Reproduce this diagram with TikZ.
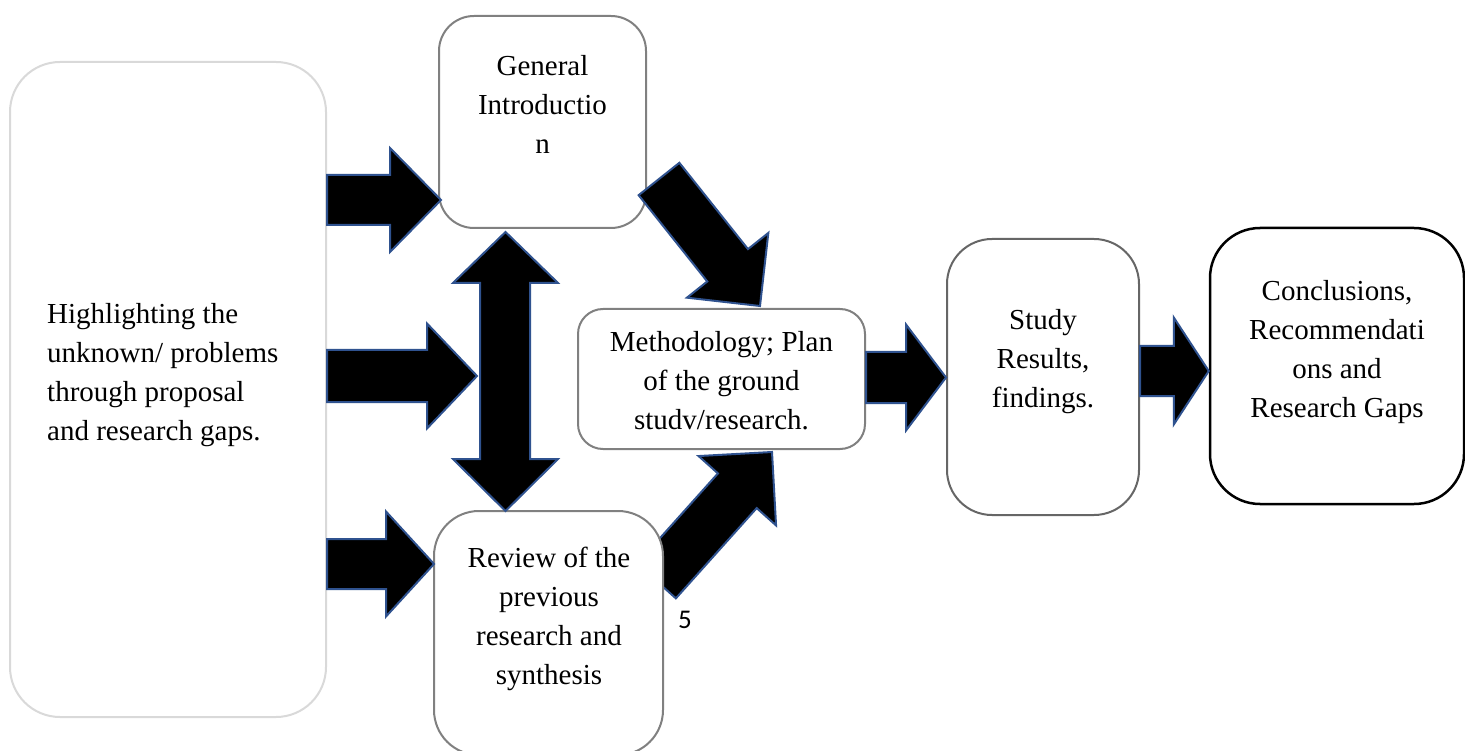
\documentclass[tikz,border=0pt]{standalone}
\usepackage{fontspec}
\setmainfont{Liberation Serif}
\newfontfamily\pagenumfont{Carlito}
\usetikzlibrary{calc}
\definecolor{arrblue}{HTML}{2F528F}
\definecolor{lightedge}{HTML}{D9D9D9}
\definecolor{midedge}{HTML}{808080}
\definecolor{darkedge}{HTML}{666666}
\newcommand\lstrut{\rule[-7pt]{0pt}{27pt}}
% #1 tail, #2 tip, #3 shaft half width, #4 head half width, #5 head length
\newcommand\blockarrow[5]{%
  \path ($(#2)!#5!(#1)$) coordinate (hb);
  \draw[blockarr] ($(#1)!#3!90:(#2)$) -- ($(hb)!#3!90:(#2)$) -- ($(hb)!#4!90:(#2)$) -- (#2)
    -- ($(hb)!#4!-90:(#2)$) -- ($(hb)!#3!-90:(#2)$) -- ($(#1)!#3!-90:(#2)$) -- cycle;}
\begin{document}
\begin{tikzpicture}[x=1pt,y=-1pt,
  box/.style={draw, fill=white, line width=2pt, inner sep=0pt},
  txt/.style={font=\fontsize{29pt}{39pt}\selectfont, inner sep=0pt, align=center},
  blockarr/.style={fill=black, draw=arrblue, line width=2pt, line join=miter}]
\useasboundingbox (0,0) rectangle (1465,751);
\fill[white] (0,0) rectangle (1465,751);

% arrow from review to methodology (behind the review box)
\coordinate (a5s) at (656.5,581);
\coordinate (a5e) at (772,452);
\blockarrow{a5s}{a5e}{26pt}{52pt}{52pt}

% boxes
\node[box, draw=lightedge, rounded corners=50pt, minimum width=316pt, minimum height=655pt] (left) at (168,389.5) {};
\node[box, draw=midedge, rounded corners=35pt, minimum width=207pt, minimum height=212pt] (intro) at (542.5,122) {};
\node[box, draw=midedge, rounded corners=25pt, minimum width=287pt, minimum height=140pt] (method) at (721.5,379) {};
\node[box, draw=midedge, rounded corners=45pt, minimum width=229pt, minimum height=244pt] (review) at (548.5,633) {};
\node[box, draw=darkedge, rounded corners=45pt, minimum width=192pt, minimum height=276pt] (study) at (1043,377) {};
\node[box, draw=black, line width=2.5pt, rounded corners=50pt, minimum width=254pt, minimum height=276pt] (concl) at (1337,366) {};

% texts
\node[txt, align=left, anchor=west] (left-t) at (47,375)
  {\lstrut Highlighting the\\\lstrut unknown/ problems\\\lstrut through proposal\\\lstrut and research gaps.};
\node[txt] (intro-t) at (542.5,108) {\lstrut General\\\lstrut Introductio\\\lstrut n};
\node[txt] (method-t) at (721.5,384) {\lstrut Methodology; Plan\\\lstrut of the ground\\\lstrut studv/research.};
\node[txt] (review-t) at (549,619) {\lstrut Review of the\\\lstrut previous\\\lstrut research and\\\lstrut synthesis};
\node[txt] (study-t) at (1043,362) {\lstrut Study\\\lstrut Results,\\\lstrut findings.};
\node[txt] (concl-t) at (1337,352) {\lstrut Conclusions,\\\lstrut Recommendati\\\lstrut ons and\\\lstrut Research Gaps};
\node[font=\pagenumfont\fontsize{27pt}{30pt}\selectfont, inner sep=0pt] (pnum) at (685,620) {5};

% block arrows
\coordinate (a1s) at (left.east |- 0,200);
\coordinate (a1e) at (441,200);
\blockarrow{a1s}{a1e}{25pt}{52pt}{51pt}
\coordinate (a2s) at (left.east |- 0,376);
\coordinate (a2e) at (477,376);
\blockarrow{a2s}{a2e}{26pt}{52.5pt}{50pt}
\coordinate (a3s) at (left.east |- 0,564);
\coordinate (a3e) at (434,564);
\blockarrow{a3s}{a3e}{25pt}{52.5pt}{48pt}
\coordinate (a4s) at (659,179);
\coordinate (a4e) at (760,306);
\blockarrow{a4s}{a4e}{26pt}{52pt}{52pt}
\coordinate (a6s) at (method.east |- 0,377.5);
\coordinate (a6e) at (study.west |- 0,377.5);
\blockarrow{a6s}{a6e}{25.5pt}{53pt}{40pt}
\coordinate (a7s) at (study.east |- 0,371);
\coordinate (a7e) at (concl.west |- 0,371);
\blockarrow{a7s}{a7e}{25pt}{53.5pt}{35pt}

% double arrow between introduction and review
\draw[blockarr] (505.5,232) -- (558,283) -- (530,283) -- (530,459) -- (558,459) -- (505.5,511)
  -- (453,459) -- (480,459) -- (480,283) -- (453,283) -- cycle;
\end{tikzpicture}
\end{document}
